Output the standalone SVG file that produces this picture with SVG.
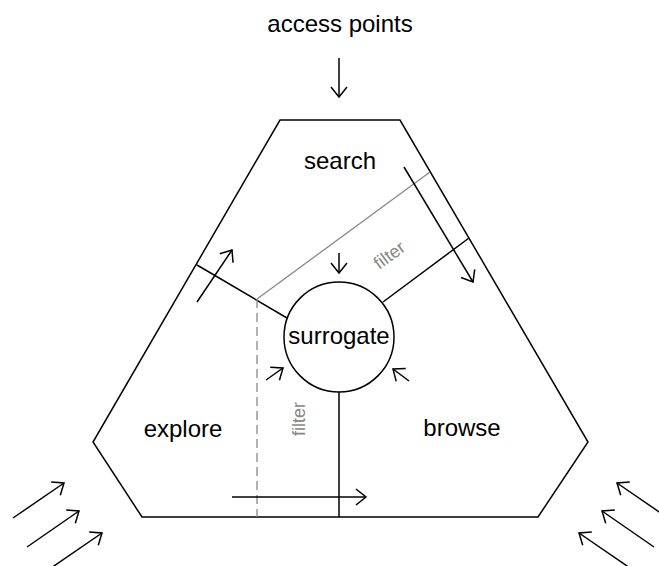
<svg xmlns="http://www.w3.org/2000/svg" width="659" height="566" viewBox="0 0 659 566">
<style>
.ln{fill:none;stroke:#000;stroke-width:1.5}
.gr{fill:none;stroke:#888;stroke-width:1.3}
.lb{font-family:"Liberation Sans",Arial,sans-serif;font-size:24px;fill:#000;text-anchor:middle}
.ft{font-family:"Liberation Sans",Arial,sans-serif;font-size:18px;fill:#888;text-anchor:middle}
.ar{marker-end:url(#ah)}
</style>
<defs>
<marker id="ah" markerUnits="userSpaceOnUse" markerWidth="20" markerHeight="20" refX="11" refY="10" orient="auto" overflow="visible">
<path d="M1,2 L11,10 L1,18" fill="none" stroke="#000" stroke-width="1.5"/>
</marker>
</defs>
<rect width="659" height="566" fill="#fff"/>
<g id="hexagon">
<polygon class="ln" points="280,120 400,120 588,442 538,517 142,517 93,442"/>
</g>
<g id="connectors">
<line class="ln" x1="287" y1="318" x2="197" y2="265"/>
<line class="ln" x1="383" y1="302" x2="469" y2="238"/>
<line class="ln" x1="339" y1="392" x2="339" y2="517"/>
<line class="gr" x1="257" y1="299" x2="430" y2="172"/>
<line class="gr" x1="257" y1="299" x2="257" y2="517" stroke-dasharray="9,5"/>
<line class="ln ar" x1="339" y1="58" x2="339" y2="97"/>
<line class="ln ar" x1="404" y1="167" x2="473" y2="282"/>
<line class="ln ar" x1="339" y1="253" x2="339" y2="273"/>
<line class="ln ar" x1="197" y1="302" x2="232" y2="250"/>
<line class="ln ar" x1="266" y1="380" x2="283" y2="368"/>
<line class="ln ar" x1="409" y1="381" x2="393" y2="369"/>
<line class="ln ar" x1="232" y1="497" x2="366" y2="497"/>
<line class="ln ar" x1="13" y1="518" x2="64" y2="483"/>
<line class="ln ar" x1="27" y1="547" x2="79" y2="511"/>
<line class="ln ar" x1="51" y1="568" x2="102" y2="533"/>
<line class="ln ar" x1="668" y1="518" x2="617" y2="483"/>
<line class="ln ar" x1="654" y1="547" x2="602" y2="511"/>
<line class="ln ar" x1="630" y1="568" x2="579" y2="533"/>
</g>
<g id="access-points"><text class="lb" x="340" y="32">access points</text></g>
<g id="search"><text class="lb" x="340" y="169">search</text></g>
<g id="surrogate">
<circle class="ln" cx="339" cy="337" r="55" fill="#fff"/>
<text class="lb" x="339" y="344">surrogate</text>
</g>
<g id="explore"><text class="lb" x="183" y="437">explore</text></g>
<g id="browse"><text class="lb" x="462" y="436">browse</text></g>
<g id="filter-labels">
<text class="ft" transform="translate(393,260) rotate(-36.3)">filter</text>
<text class="ft" transform="translate(305,419) rotate(-90)">filter</text>
</g>
</svg>
